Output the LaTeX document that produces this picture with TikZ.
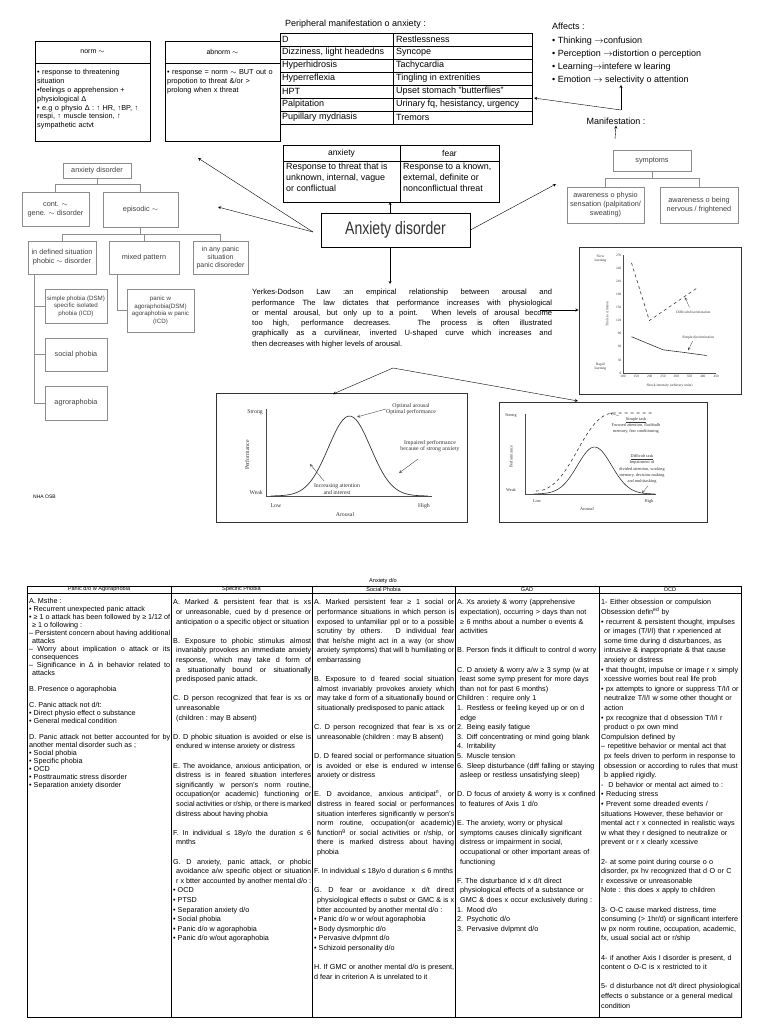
\documentclass[tikz,border=0pt]{standalone}
\usepackage{fontspec}
\setmainfont{Liberation Sans}
\newfontfamily\grf{Liberation Serif}
\setlength{\parindent}{0pt}
\hyphenpenalty=10000
\tolerance=9999
\emergencystretch=8pt
\newcommand{\hitem}{\par\hangindent=3pt\hangafter=1\relax}
\newcommand{\pitem}{\par}
\newcommand{\vgap}{\par\vskip\baselineskip}

\begin{document}
\begin{tikzpicture}[x=1pt, y=-1pt, >=stealth,
  tbox/.style={draw=black!45, text=black!75, font=\fontsize{7.3}{8.8}\selectfont, align=center, inner sep=1pt},
  hbox/.style={draw, minimum width=115pt, minimum height=22pt, inner sep=0pt, font=\fontsize{7}{8}\selectfont},
  ntxt/.style={anchor=north west, text width=111pt, inner sep=0pt, align=left, font=\fontsize{7.3}{8.8}\selectfont},
  ptxt/.style={anchor=west, inner sep=0pt, font=\fontsize{9}{10}\selectfont},
  gbox/.style={draw=black!80, line width=0.9pt},
  gtxt/.style={font=\grf\fontsize{5.8}{6.6}\selectfont, text=black!80, inner sep=0pt},
  rtxt/.style={font=\grf\fontsize{4.3}{6}\selectfont, text=black!80, inner sep=0pt},
  thd/.style={font=\fontsize{5.6}{6}\selectfont, inner sep=0pt},
  tcol/.style={anchor=north west, inner sep=0pt, font=\fontsize{7.2}{9.6}\selectfont},
]
\fill[white] (0,0) rectangle (768,1024);
\useasboundingbox (0,0) rectangle (768,1024);

\node[hbox] (normh) at (92.5,52) {norm $\sim$};
\draw (normh.south west) rectangle (150,141);
\node[ntxt] (normb) at (37,66) {\hitem • response to threatening\\ situation
  \hitem •feelings o apprehension +\\ physiological Δ
  \hitem • e.g o physio Δ : ↑ HR, ↑BP, ↑\\ respi, ↑ muscle tension, ↑\\ sympathetic actvt};
\node[hbox] (abnh) at (222.5,52) {abnorm $\sim$};
\draw (abnh.south west) rectangle (280,141);
\node[ntxt] (abnb) at (167,66) {\hitem • response = norm $\sim$ BUT out o\\ propotion to threat \&/or >\\ prolong when x threat};

\node[ptxt] (ptitle) at (285,24) {Peripheral manifestation o anxiety :};
\draw (280,33) rectangle (532,124);
\draw (393,33) -- (393,124);
\foreach \l/\r [count=\i] in {D/Restlessness, {Dizziness, light headedns}/Syncope, Hyperhidrosis/Tachycardia, Hyperreflexia/Tingling in extrenities, HPT/Upset stomach "butterflies", Palpitation/{Urinary fq, hesistancy, urgency}, Pupillary mydriasis/Tremors}
{
  \node[ptxt] (pl\i) at (282,{33+13*\i-6.5}) {\l};
  \node[ptxt] (pr\i) at (396,{33+13*\i-6.5}) {\r};
  \draw (280,{33+13*\i}) -- (532,{33+13*\i});
}

\node[anchor=north west, align=left, inner sep=0pt, font=\fontsize{9}{13.3}\selectfont] (aff) at (552,23)
  {Affects :\\ • Thinking $\rightarrow$confusion\\ • Perception $\rightarrow$distortion o perception\\ • Learning$\rightarrow$intefere w learing\\ • Emotion $\rightarrow$ selectivity o attention};
\node[font=\fontsize{9}{10}\selectfont, inner sep=1pt] (manif) at (616,121) {Manifestation :};
\coordinate (mj) at (621,110);
\coordinate (ptab) at (534,98);
\draw[->] (mj) -- (ptab);
\draw[->] (mj) -- (aff.south -| mj);
\coordinate (sa) at (615,139);
\draw[->] (sa) -- (manif.south);

\node[tbox, minimum width=78pt, minimum height=21pt] (symp) at (652,160.5) {symptoms};
\node[tbox, minimum width=77pt, minimum height=36pt, font=\fontsize{7.3}{9}\selectfont] (symp1) at (605.5,205) {awareness o physio\\sensation (palpitation/\\sweating)};
\node[tbox, minimum width=78pt, minimum height=36pt, font=\fontsize{7.3}{9}\selectfont] (symp2) at (699,205) {awareness o being\\nervous / frightened};
\draw[black!45] (symp.south) -- ++(0,7) -| (symp1.north);
\draw[black!45] (symp.south) ++(0,7) -| (symp2.north);

\draw (283,145) rectangle (499,202);
\draw (283,161) -- (499,161);
\draw (400,145) -- (400,202);
\node[font=\fontsize{8.5}{9}\selectfont] (anxh) at (341.5,153) {anxiety};
\node[font=\fontsize{8.5}{9}\selectfont] (fearh) at (449.5,153) {fear};
\node[anchor=north west, align=left, inner sep=0pt, font=\fontsize{8.9}{10.7}\selectfont] (anxb) at (286,163) {Response to threat that is\\unknown, internal, vague\\or conflictual};
\node[anchor=north west, align=left, inner sep=0pt, font=\fontsize{8.9}{10.7}\selectfont] (fearb) at (403,163) {Response to a known,\\external, definite or\\nonconflictual threat};

\node[draw, line width=0.8pt, minimum width=149pt, minimum height=34pt, text=black!80, font=\fontsize{18}{20}\selectfont] (axd) at (395.5,230) {\scalebox{0.78}[1]{Anxiety disorder}};
\coordinate (tbot) at (390,202);
\coordinate (ytop) at (390,284);
\draw[->] (axd.north -| tbot) -- (tbot);
\draw[->] (axd.south -| ytop) -- (ytop);
\coordinate (sympin) at (556,184);
\draw[->] (axd.east) -- (sympin);
\coordinate (axl) at (313,232);
\coordinate (tr1) at (198,158);
\coordinate (tr2) at (218,207);
\draw[->] (axl) -- (tr1);
\draw[->] (axl) -- (tr2);

\node[tbox, minimum width=68pt, minimum height=15pt] (ad) at (97,170.5) {anxiety disorder};
\node[tbox, minimum width=67pt, minimum height=34pt] (cont) at (55.5,209) {cont. $\sim$\\gene. $\sim$ disorder};
\node[tbox, minimum width=75pt, minimum height=35pt] (epis) at (140.5,209.5) {episodic $\sim$};
\node[tbox, minimum width=68pt, minimum height=33pt] (phob) at (62,257.5) {in defined situation\\phobic $\sim$ disorder};
\node[tbox, minimum width=70pt, minimum height=33pt] (mixed) at (144,257.5) {mixed pattern};
\node[tbox, minimum width=55pt, minimum height=33pt, font=\fontsize{7}{8}\selectfont] (anyp) at (220.5,257.5) {in any panic\\situation\\panic disoreder};
\node[tbox, minimum width=62pt, minimum height=34pt, font=\fontsize{6.2}{7.6}\selectfont] (simple) at (76,306) {simple phobia (DSM)\\specific isolated\\phobia (ICD)};
\node[tbox, minimum width=62pt, minimum height=33pt] (social) at (76,354.5) {social phobia};
\node[tbox, minimum width=62pt, minimum height=34pt] (agro) at (76,403) {agroraphobia};
\node[tbox, minimum width=67pt, minimum height=43pt, font=\fontsize{6.2}{7.6}\selectfont] (pw) at (160.5,310.5) {panic w\\agoraphobia(DSM)\\agoraphobia w panic\\(ICD)};
\draw[black!45] (ad.south) -- ++(0,6) -| (cont.north);
\draw[black!45] (ad.south) ++(0,6) -| (epis.north);
\draw[black!45] (epis.south) -- ++(0,7) -| (phob.north);
\draw[black!45] (epis.south) ++(0,7) -| (mixed.north);
\draw[black!45] (epis.south) ++(0,7) -| (anyp.north);
\draw[black!45] (phob.south west) ++(6,0) |- (simple.west);
\draw[black!45] (phob.south west) ++(6,0) |- (social.west);
\draw[black!45] (phob.south west) ++(6,0) |- (agro.west);
\draw[black!45] (mixed.south west) ++(8,0) |- (pw.west);

\node[anchor=north west, text width=300pt, align=justify, inner sep=0pt, font=\fontsize{7.6}{10.3}\selectfont] (yerkes) at (252,289)
  {Yerkes-Dodson Law :an empirical relationship between arousal and\linebreak performance The law dictates that performance increases with physiological\linebreak or mental arousal, but only up to a point. When levels of arousal become\linebreak too high, performance decreases. The process is often illustrated\linebreak graphically as a curvilinear, inverted U-shaped curve which increases and\linebreak then decreases with higher levels of arousal.};

\node[gbox, minimum width=162pt, minimum height=147pt] (gtr) at (660,320.5) {};
\node[gbox, minimum width=251pt, minimum height=129pt] (gl) at (341.5,457.5) {};
\node[gbox, minimum width=208pt, minimum height=120pt] (gr) at (603,462) {};
\coordinate (yr) at (540,310);
\draw[->] (yr) -- (gtr.west |- yr);
\coordinate (yb) at (393,368);
\coordinate (glin) at (333,394);
\coordinate (grin) at (578,401);
\draw[->] (yb) -- (glin);
\draw[->] (yb) -- (grin);

\begin{scope}[shift={(623,373)}, x=0.266pt, y=0.437pt]
  \draw[black!70, line width=0.4pt] (0,270) -- (0,0) -- (350,0);
  \foreach \v in {0,30,...,270} \node[rtxt, font=\grf\fontsize{3.4}{3.8}\selectfont, anchor=east] (ty\v) at (-6,\v) {\v};
  \foreach \u in {100,150,...,450} \node[rtxt, font=\grf\fontsize{3.4}{3.8}\selectfont, anchor=north] (tx\u) at (\u-100,-5) {\u};
  \node[rtxt, font=\grf\fontsize{3.6}{4}\selectfont, align=center] (tslow) at (-85,262) {Slow\\learning};
  \node[rtxt, font=\grf\fontsize{3.6}{4}\selectfont, align=center] (trapid) at (-85,14) {Rapid\\learning};
  \node[rtxt, font=\grf\fontsize{3.6}{4}\selectfont, rotate=90] (ttrial) at (-60,135) {Trials to criterion};
  \node[rtxt, font=\grf\fontsize{3.6}{4}\selectfont] (tshock) at (175,-30) {Shock intensity (arbitrary units)};
  \draw[dashed, black!80, line width=0.6pt] (32,252) -- (99,120) -- (277,194);
  \draw[black!80, line width=0.6pt] (32,83) -- (151,53) -- (230,47) -- (314,40);
  \node[rtxt, font=\grf\fontsize{3.6}{4}\selectfont] (tdiff) at (265,140) {Difficult discrimination};
  \draw[->, black!70, line width=0.3pt] (250,150) -- (233,173);
  \node[rtxt, font=\grf\fontsize{3.6}{4}\selectfont] (tsimp) at (283,82) {Simple discrimination};
  \draw[->, black!70, line width=0.3pt] (262,73) -- (245,52);
\end{scope}

\draw[black!70, line width=0.5pt] (266,409) -- (266,496) -- (432,496);
\draw[black!80, line width=0.7pt] plot[domain=0:1, samples=60, smooth] ({271+157*\x}, {496-80*exp(-((\x-0.5)/0.19)*((\x-0.5)/0.19))});
\node[gtxt, anchor=east] (lstrong) at (263,412) {Strong};
\node[gtxt, anchor=east] (lweak) at (263,493) {Weak};
\node[gtxt] (llow) at (276,506) {Low};
\node[gtxt] (lhigh) at (424,506) {High};
\node[gtxt] (laro) at (345,515) {Arousal};
\node[gtxt, rotate=90] (lperf) at (247,455) {Performance};
\node[gtxt, align=center] (lopt) at (411,409) {Optimal arousal\\Optimal performance};
\node[gtxt, align=center] (limp) at (430,446) {Impaired performance\\because of strong anxiety};
\node[gtxt, align=center] (linc) at (337,489) {Increasing attention\\and interest};
\coordinate (lpk) at (357,417);
\coordinate (lfall) at (399,473);
\coordinate (lrise) at (310,464);
\draw[->, black!70, line width=0.4pt] (lopt.west) -- (lpk);
\draw[->, black!70, line width=0.4pt] (418,459) -- (lfall);
\draw[->, black!70, line width=0.4pt] (324,481) -- (lrise);

\draw[black!70, line width=0.5pt] (525,414) -- (525,494) -- (656,494);
\draw[dashed, black!80, line width=0.6pt] (536,491) .. controls (572,491) and (582,413) .. (614,413) -- (654,413);
\draw[black!80, line width=0.6pt] plot[domain=0:1, samples=60, smooth] ({534+121*\x}, {494-47*exp(-((\x-0.5)/0.2)*((\x-0.5)/0.2))});
\node[rtxt] (rstrong) at (511,416) {Strong};
\node[rtxt] (rweak) at (511,490) {Weak};
\node[rtxt] (rlow) at (537,501) {Low};
\node[rtxt] (rhigh) at (649,501) {High};
\node[rtxt] (raro) at (587,509) {Arousal};
\node[rtxt, rotate=90] (rperf) at (511,457) {Performance};
\node[rtxt, align=center] (rsimp) at (636,425) {\underline{Simple task}\\Focused attention, flashbulb\\memory, fear conditioning};
\node[rtxt, align=center, font=\grf\fontsize{4.3}{6.1}\selectfont] (rdiff) at (642,469) {\underline{Difficult task}\\Impairment of\\divided attention, working\\memory, decision-making\\and multitasking};
\draw[->, black!70, line width=0.3pt] (619,416) -- (610,413);
\draw[->, black!70, line width=0.3pt] (648,486) -- (642,493);

\node[anchor=west, inner sep=0pt, font=\fontsize{5}{6}\selectfont] (sig) at (33,497) {NHA OSB};

\node[thd] (ttl) at (383,581) {Anxiety d/o};
\draw (27,586) rectangle (741,1017);
\draw (27,593) -- (741,593);
\foreach \x in {171,312,455,599} \draw (\x,586) -- (\x,1017);
\node[thd] (hpanic) at (99,589.5) {Panic d/o w Agoraphobia};
\node[thd] (hspec) at (241.5,589.5) {Specific Phobia};
\node[thd] (hsoc) at (383.5,589.5) {Social Phobia};
\node[thd] (hgad) at (527,589.5) {GAD};
\node[thd] (hocd) at (670,589.5) {OCD};

\node[tcol, text width=141pt, align=justify, font=\fontsize{7.2}{8}\selectfont] (tpanic) at (29,595) {%
\hitem A. Msthe :
\hitem • Recurrent unexpected panic attack
\hitem • ≥ 1 o attack has been followed by ≥ 1/12 of ≥ 1 o following :
\hitem – Persistent concern about having additional attacks
\hitem – Worry about implication o attack or its consequences
\hitem – Significance in Δ in behavior related to attacks
\vgap
\hitem B. Presence o agoraphobia
\vgap
\hitem C. Panic attack not d/t:
\hitem • Direct physio effect o substance
\hitem • General medical condition
\vgap
\pitem D. Panic attack not better accounted for by another mental disorder such as ;
\pitem • Social phobia
\pitem • Specific phobia
\pitem • OCD
\pitem • Posttraumatic stress disorder
\pitem • Separation anxiety disorder};

\node[tcol, text width=138pt, align=justify] (tspec) at (173,595) {%
\hitem A. Marked \& persistent fear that is xs or unreasonable, cued by d presence or anticipation o a specific object or situation
\vgap
\hitem B. Exposure to phobic stimulus almost invariably provokes an immediate anxiety response, which may take d form of a situationally bound or situationally predisposed panic attack.
\vgap
\hitem C. D person recognized that fear is xs or unreasonable\\(children : may B absent)
\vgap
\hitem D. D phobic situation is avoided or else is endured w intense anxiety or distress
\vgap
\hitem E. The avoidance, anxious anticipation, or distress is in feared situation interferes significantly w person's norm routine, occupation(or academic) functioning or social activities or r/ship, or there is marked distress about having phobia
\vgap
\hitem F. In individual ≤ 18y/o the duration ≤ 6 mnths
\vgap
\hitem G. D anxiety, panic attack, or phobic avoidance a/w specific object or situation r x btter accounted by another mental d/o :
\pitem • OCD
\pitem • PTSD
\pitem • Separation anxiety d/o
\pitem • Social phobia
\pitem • Panic d/o w agoraphobia
\pitem • Panic d/o w/out agoraphobia};

\node[tcol, text width=140pt, align=justify] (tsoc) at (314,595) {%
\hitem A. Marked persistent fear ≥ 1 social or performance situations in which person is exposed to unfamiliar ppl or to a possible scrutiny by others. D individual fear that he/she might act in a way (or show anxiety symptoms) that will b humiliating or embarrassing
\vgap
\hitem B. Exposure to d feared social situation almost invariably provokes anxiety which may take d form of a situationally bound or situationally predisposed to panic attack
\vgap
\hitem C. D person recognized that fear is xs or unreasonable (children : may B absent)
\vgap
\hitem D. D feared social or performance situation is avoided or else is endured w intense anxiety or distress
\vgap
\hitem E. D avoidance, anxious anticipat\textsuperscript{n}, or distress in feared social or performances situation interferes significantly w person's norm routine, occupation(or academic) function\textsuperscript{g} or social activities or r/ship, or there is marked distress about having phobia
\vgap
\hitem F. In individual ≤ 18y/o d duration ≤ 6 mnths
\vgap
\hitem G. D fear or avoidance x d/t direct physiological effects o subst or GMC \& is x btter accounted by another mental d/o :
\pitem • Panic d/o w or w/out agoraphobia
\pitem • Body dysmorphic d/o
\pitem • Pervasive dvlpmnt d/o
\pitem • Schizoid personality d/o
\vgap
\hitem H. If GMC or another mental d/o is present, d fear in criterion A is unrelated to it};

\node[tcol, text width=141pt, align=left] (tgad) at (457,595) {%
\hitem A. Xs anxiety \& worry (apprehensive expectation), occurring > days than not ≥ 6 mnths about a number o events \& activities
\vgap
\hitem B. Person finds it difficult to control d worry
\vgap
\hitem C. D anxiety \& worry a/w ≥ 3 symp (w at least some symp present for more days than not for past 6 months)
\pitem Children : require only 1
\hitem 1. Restless or feeling keyed up or on d edge
\hitem 2. Being easily fatigue
\hitem 3. Diff concentrating or mind going blank
\hitem 4. Irritability
\hitem 5. Muscle tension
\hitem 6. Sleep disturbance (diff falling or staying asleep or restless unsatisfying sleep)
\vgap
\hitem D. D focus of anxiety \& worry is x confined to features of Axis 1 d/o
\vgap
\hitem E. The anxiety, worry or physical symptoms causes clinically significant distress or impairment in social, occupational or other important areas of functioning
\vgap
\hitem F. The disturbance id x d/t direct physiological effects of a substance or GMC \& does x occur exclusively during :
\pitem 1. Mood d/o
\pitem 2. Psychotic d/o
\pitem 3. Pervasive dvlpmnt d/o};

\node[tcol, text width=139pt, align=left] (tocd) at (601,595) {%
\pitem 1- Either obsession or compulsion
\pitem Obsession defin\textsuperscript{ed} by
\hitem • recurrent \& persistent thought, impulses or images (T/I/I) that r xperienced at some time during d disturbances, as intrusive \& inappropriate \& that cause anxiety or distress
\hitem • that thought, impulse or image r x simply xcessive worries bout real life prob
\hitem • px attempts to ignore or suppress T/I/I or neutralize T/I/I w some other thought or action
\hitem • px recognize that d obsession T/I/I r product o px own mind
\pitem Compulsion defined by
\hitem – repetitive behavior or mental act that px feels driven to perform in response to obsession or according to rules that must b applied rigidly.
\hitem - \ D behavior or mental act aimed to :
\pitem • Reducing stress
\pitem • Prevent some dreaded events / situations However, these behavior or mental act r x connected in realistic ways w what they r designed to neutralize or prevent or r x clearly xcessive
\vgap
\pitem 2- at some point during course o o disorder, px hv recognized that d O or C r excessive or unreasonable
\pitem Note : this does x apply to children
\vgap
\pitem 3- O-C cause marked distress, time consuming (> 1hr/d) or significant interfere w px norm routine, occupation, academic, fx, usual social act or r/ship
\vgap
\pitem 4- if another Axis I disorder is present, d content o O-C is x restricted to it
\vgap
\pitem 5- d disturbance not d/t direct physiological effects o substance or a general medical condition};
\end{tikzpicture}
\end{document}
